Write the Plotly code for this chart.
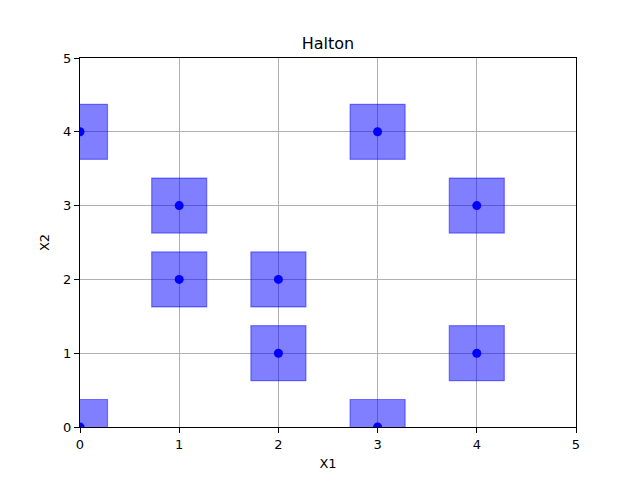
import plotly.graph_objects as go

x1 = [0, 1, 1, 2, 2, 4, 4, 3, 3, 0]
x2 = [4, 3, 2, 2, 1, 3, 1, 4, 0, 0]
ticks = [0, 1, 2, 3, 4, 5]

fig = go.Figure()
fig.add_trace(go.Scatter(
    x=x1, y=x2, mode="markers", cliponaxis=True,
    marker=dict(symbol="square", size=55, color="rgba(0,0,255,0.5)",
                line=dict(color="rgba(0,0,255,0.45)", width=1.2)),
    hoverinfo="skip", showlegend=False))
fig.add_trace(go.Scatter(
    x=x1, y=x2, mode="markers", cliponaxis=True,
    marker=dict(symbol="circle", size=9, color="#0000ff", line=dict(width=0)),
    showlegend=False))

axis_common = dict(
    range=[0, 5], tickvals=ticks, ticktext=[str(t) for t in ticks],
    showline=True, mirror=True, linecolor="black", linewidth=1,
    ticks="outside", ticklen=5, tickcolor="black", tickwidth=1,
    showgrid=True, gridcolor="#b0b0b0", gridwidth=1, zeroline=False,
    tickfont=dict(family="DejaVu Sans", size=13, color="black"),
)
fig.update_layout(
    width=640, height=480,
    margin=dict(l=80, r=64, t=58, b=53),
    paper_bgcolor="white", plot_bgcolor="white",
    title=dict(text="Halton", x=0.5, xref="paper", xanchor="center",
               y=1 - 43 / 480, yref="container", yanchor="middle",
               font=dict(family="DejaVu Sans", size=16, color="black")),
    xaxis=dict(**axis_common, title=dict(text="X1", standoff=8,
               font=dict(family="DejaVu Sans", size=13, color="black"))),
    yaxis=dict(**axis_common, title=dict(text="X2", standoff=10,
               font=dict(family="DejaVu Sans", size=13, color="black"))),
)
fig.write_html("out.html")
